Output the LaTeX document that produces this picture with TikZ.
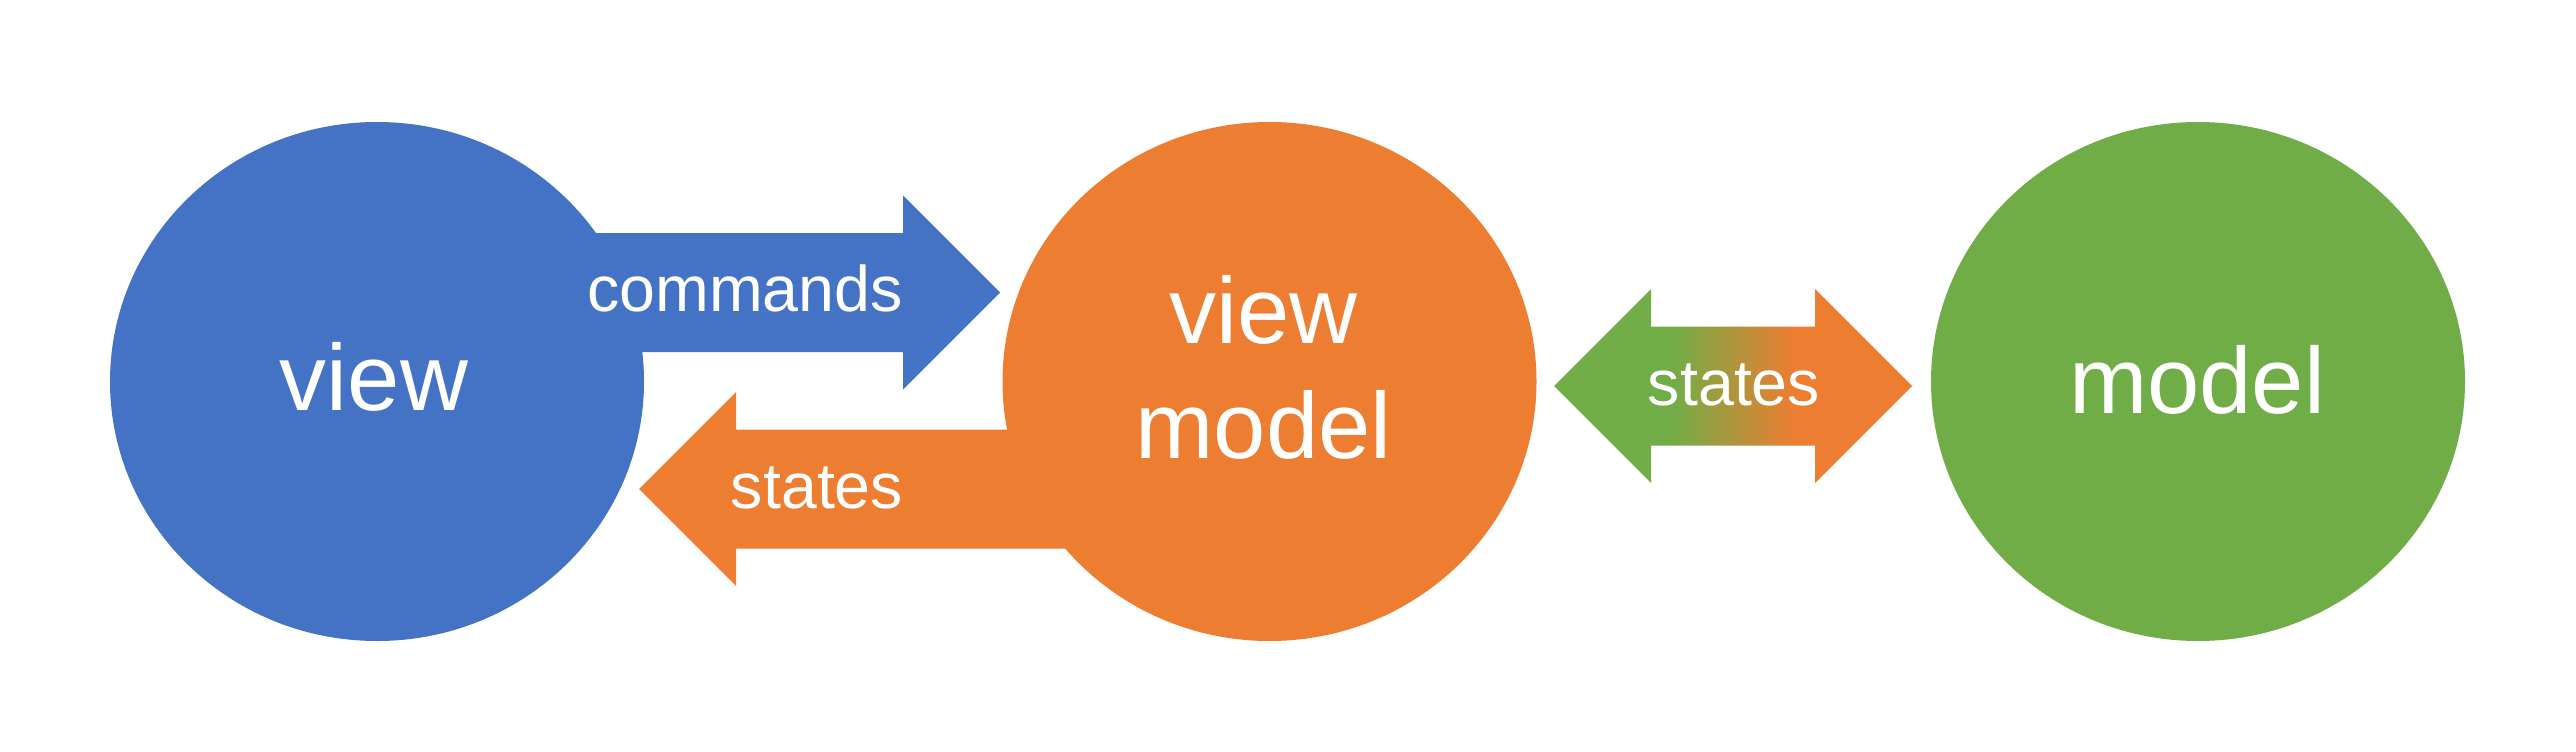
\documentclass[tikz,border=0pt]{standalone}
\usepackage{fontspec}
\setmainfont{Liberation Sans}
\usetikzlibrary{shapes.geometric,calc,backgrounds}

\definecolor{vmblue}{HTML}{4472C4}
\definecolor{vmorange}{HTML}{ED7D31}
\definecolor{vmgreen}{HTML}{70AD47}
\pgfdeclarehorizontalshading{statesfade}{100bp}{color(0bp)=(vmgreen); color(41.5bp)=(vmgreen);
  color(58.5bp)=(vmorange); color(100bp)=(vmorange)}

% block arrow: tail #2, tip #3
\newcommand{\blockarrow}[3][]{%
  \coordinate (ba-h) at ($(#3)!97pt!(#2)$);
  \path[#1] ($(#2)!59.5pt!90:(#3)$) -- ($(ba-h)!59.5pt!-90:(#2)$) -- ($(ba-h)!97pt!-90:(#2)$)
    -- (#3) -- ($(ba-h)!97pt!90:(#2)$) -- ($(ba-h)!59.5pt!90:(#2)$) -- ($(#2)!59.5pt!-90:(#3)$) -- cycle;}
% double block arrow between #2 and #3
\newcommand{\dblarrow}[3][]{%
  \coordinate (da-a) at ($(#2)!97pt!(#3)$);
  \coordinate (da-b) at ($(#3)!97pt!(#2)$);
  \path[#1] (#2) -- ($(da-a)!97pt!90:(#3)$) -- ($(da-a)!59.5pt!90:(#3)$) -- ($(da-b)!59.5pt!-90:(#2)$)
    -- ($(da-b)!97pt!-90:(#2)$) -- (#3) -- ($(da-b)!97pt!90:(#2)$) -- ($(da-b)!59.5pt!90:(#2)$)
    -- ($(da-a)!59.5pt!-90:(#3)$) -- ($(da-a)!97pt!-90:(#3)$) -- cycle;}

\begin{document}
\begin{tikzpicture}[x=1pt,y=-1pt,
  bubble/.style={ellipse,minimum width=534pt,minimum height=519pt,inner sep=0pt,fill=#1},
  biglbl/.style={text=white,font=\fontsize{94}{115}\selectfont,inner sep=0pt,anchor=base,align=center},
  lbl/.style={text=white,font=\fontsize{64.5}{77}\selectfont,inner sep=0pt,anchor=base}]
  \node[bubble=vmblue] (view) at (377,381.5) {};
  \node[bubble=vmorange] (vm) at (1269.5,381.5) {};
  \node[bubble=vmgreen] (model) at (2198,381.5) {};
  \coordinate (cmdtail) at (view.center |- 0,292.5);
  \coordinate (cmdtip) at (1000,292.5);
  \coordinate (sttail) at (vm.center |- 0,489);
  \coordinate (sttip) at (639,489);
  \coordinate (dbla) at (1554,386);
  \coordinate (dblb) at (1912,386);
  \begin{scope}[on background layer]
    \fill[white] (0,0) rectangle (2576,752);
    \blockarrow[fill=vmblue]{cmdtail}{cmdtip}
    \blockarrow[fill=vmorange]{sttail}{sttip}
    \dblarrow[shade,shading=statesfade]{dbla}{dblb}
  \end{scope}
  \useasboundingbox (0,0) rectangle (2576,752);
  \node[biglbl] (viewtxt) at ($(view.center)+(-3,28.5)$) {view};
  \node[biglbl] (vmtxt) at ($(vm.center)+(-6,76.5)$) {view\\model};
  \node[biglbl] (modeltxt) at ($(model.center)+(-1,32)$) {model};
  \node[lbl] (cmdtxt) at (745,311) {commands};
  \node[lbl] (sttxt) at (817,508) {states};
  \node[lbl] (dbltxt) at (1734,405) {states};
\end{tikzpicture}
\end{document}
